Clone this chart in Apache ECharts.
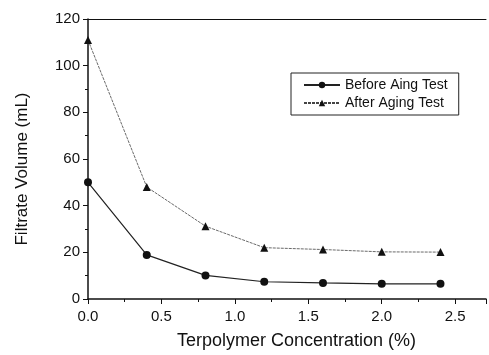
<!DOCTYPE html>
<html><head><meta charset="utf-8">
<script src="https://cdn.jsdelivr.net/npm/echarts@6/dist/echarts.min.js"></script>
<style>html,body{margin:0;padding:0;background:#fff}#c{width:489px;height:355px}</style>
</head><body><div id="c"></div>
<script>
const concentration = [0, 0.4, 0.8, 1.2, 1.6, 2.0, 2.4];
const beforeAging = [50, 18.9, 10.1, 7.4, 6.9, 6.5, 6.5];
const afterAging = [111, 48, 31.2, 22, 21.2, 20.2, 20.1];
const seriesNames = ['Before Aing Test', 'After Aging Test'];
const xTitle = 'Terpolymer Concentration (%)';
const yTitle = 'Filtrate Volume (mL)';

const font = 'Liberation Sans, Arial, sans-serif';
const chart = echarts.init(document.getElementById('c'));
chart.setOption({
  animation: false,
  backgroundColor: '#fff',
  grid: { left: 88, right: 0, top: 19, bottom: 54, containLabel: false },
  legend: {
    orient: 'vertical', left: 291, top: 73, width: 167,
    borderColor: '#222', borderWidth: 1, borderRadius: 0,
    padding: [5, 11, 5, 12], itemGap: 4, itemWidth: 36, itemHeight: 8,
    textStyle: { fontFamily: font, fontSize: 14, color: '#111' },
    data: seriesNames
  },
  xAxis: [{
    type: 'value', min: 0, max: 2.71, interval: 0.5,
    name: xTitle, nameLocation: 'middle', nameGap: 33,
    nameTextStyle: { fontFamily: font, fontSize: 18, color: '#111', padding: [0, 0, 0, 19] },
    axisLine: { lineStyle: { color: '#111', width: 1.5 } },
    axisTick: { show: true, length: 5, lineStyle: { color: '#111' } },
    minorTick: { show: true, splitNumber: 2, length: 3, lineStyle: { color: '#111' } },
    axisLabel: { fontFamily: font, fontSize: 15, color: '#111', margin: 10,
      formatter: v => v > 2.6 ? '' : v.toFixed(1) },
    splitLine: { show: false }
  }, {
    type: 'value', min: 0, max: 2.71, position: 'top',
    axisLine: { show: true, lineStyle: { color: '#111', width: 1 } },
    axisTick: { show: false }, axisLabel: { show: false }, splitLine: { show: false }
  }],
  yAxis: {
    type: 'value', min: 0, max: 120, interval: 20,
    name: yTitle, nameLocation: 'middle', nameGap: 57,
    nameTextStyle: { fontFamily: font, fontSize: 17, color: '#111', padding: [0, 20, 0, 0] },
    axisLine: { show: true, lineStyle: { color: '#111', width: 1.5 } },
    axisTick: { show: true, length: 5, lineStyle: { color: '#111' } },
    minorTick: { show: true, splitNumber: 2, length: 3, lineStyle: { color: '#111' } },
    axisLabel: { fontFamily: font, fontSize: 15, color: '#111', margin: 8 },
    splitLine: { show: false }
  },
  series: [{
    name: seriesNames[0], type: 'line',
    data: concentration.map((x, i) => [x, beforeAging[i]]),
    symbol: 'circle', symbolSize: 8,
    itemStyle: { color: '#111' },
    lineStyle: { color: '#222', width: 1.2 }
  }, {
    name: seriesNames[1], type: 'line',
    data: concentration.map((x, i) => [x, afterAging[i]]),
    symbol: 'triangle', symbolSize: 8,
    itemStyle: { color: '#111' },
    lineStyle: { color: '#444', width: 0.8, type: [3, 1] }
  }]
});
</script></body></html>
